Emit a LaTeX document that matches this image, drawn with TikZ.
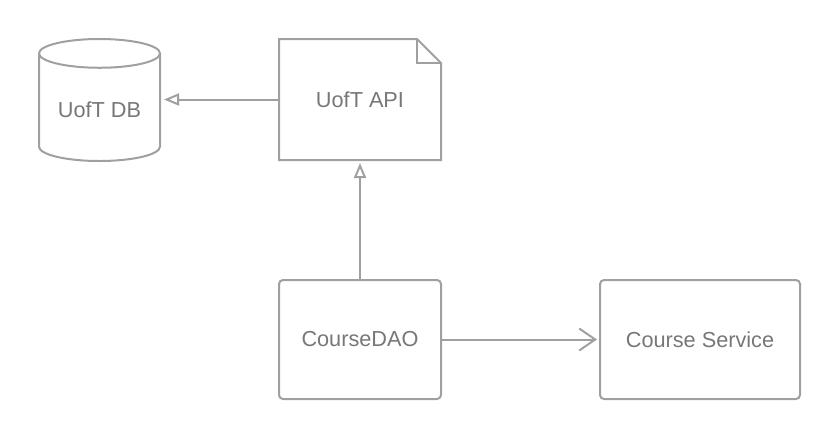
\documentclass[tikz,border=0pt]{standalone}
\usepackage{fontspec}
\setmainfont{Liberation Sans}
\usetikzlibrary{arrows.meta,shapes.geometric,positioning}
\definecolor{linegray}{HTML}{A0A0A0}
\definecolor{textgray}{HTML}{777777}

\begin{document}
\begin{tikzpicture}
		[x=1pt,y=1pt,
		base/.style={line width=2pt, draw=linegray, text=textgray, font=\fontsize{21.7}{26}\selectfont, align=center},
		box/.style={base, rectangle, rounded corners=4pt, minimum height=119pt},
		note/.style={base, rectangle, draw=none, outer sep=0pt, minimum width=162pt, minimum height=121pt},
		store/.style={base, cylinder, shape border rotate=90, aspect=0.32, minimum width=121pt, minimum height=122pt},
		uses/.style={line width=2pt, draw=linegray, -{Triangle[open, length=15pt, width=12pt]}, shorten >=3pt},
		calls/.style={line width=2pt, draw=linegray, -{Straight Barb[length=16pt, width=22pt]}, shorten >=2pt}]
		
			\useasboundingbox (0,0) rectangle (840,-440);
			
			\node[note] (api) at (360,-99.5) {UofT API};
			\draw[linegray, line width=2pt] (api.north west) -- ([xshift=-24pt]api.north east) -- ([yshift=-24pt]api.north east) -- (api.south east) -- (api.south west) -- cycle;
			\draw[linegray, line width=2pt] ([xshift=-24pt]api.north east) |- ([yshift=-24pt]api.north east);
			\node[store, anchor=north] (db) at (99.5,-38) {\raisebox{-8pt}{UofT DB}};
			\node[box, minimum width=162pt, below=119pt of api] (dao) {CourseDAO};
			\node[box, minimum width=200pt, right=157pt of dao] (svc) {Course Service};
			
			\path
			(api.west) edge[uses] (api.west -| db.east)
			(dao) edge[uses] (api)
			(dao) edge[calls] (svc);

	\end{tikzpicture}
\end{document}
